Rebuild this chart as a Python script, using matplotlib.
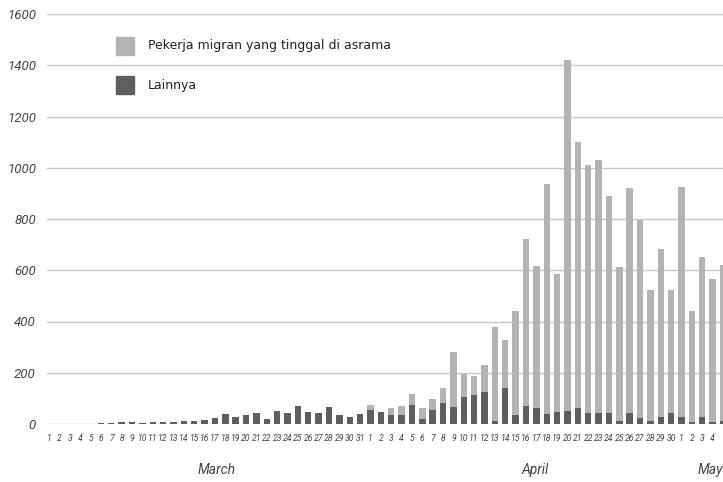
import matplotlib
matplotlib.use("Agg")
import matplotlib.pyplot as plt
from matplotlib.patches import Rectangle
from matplotlib.transforms import blended_transform_factory

day_labels = [str(d) for d in range(1, 32)] + [str(d) for d in range(1, 31)] + [str(d) for d in range(1, 6)]

lainnya = [0, 0, 0, 0, 0, 5, 5, 9, 9, 4, 9, 7, 9, 10, 11, 17, 23, 40, 29, 36, 42, 20, 51, 44, 70, 47, 44, 68, 35, 29, 39,
           56, 47, 36, 36, 73, 21, 56, 83, 65, 104, 112, 125, 12, 142, 35, 69, 61, 38, 47, 52, 61, 44, 44, 42, 13, 42, 22, 13, 26, 42,
           26, 9, 29, 9, 10]
dormitory = [0, 0, 0, 0, 0, 0, 0, 0, 0, 0, 0, 0, 0, 0, 0, 0, 0, 0, 0, 0, 0, 0, 0, 0, 0, 0, 0, 0, 0, 0, 0,
             17, 0, 25, 36, 45, 43, 43, 56, 217, 91, 75, 105, 366, 187, 407, 652, 557, 899, 540, 1369, 1041, 967, 986, 846, 601, 880, 774, 510, 658, 481,
             899, 431, 623, 557, 612]

months = ["March", "April", "May"]
month_pos = [16.2, 46.9, 63.8]

c_light = "#b3b3b3"
c_dark = "#5e5e5e"
txt = "#444444"
fam = ["Roboto", "DejaVu Sans"]

fig = plt.figure(figsize=(7.23, 4.82), dpi=100)
ax = fig.add_axes([47 / 723, 1 - 424 / 482, 1 - 47 / 723, (424 - 14) / 482])

x = list(range(len(day_labels)))
ax.bar(x, lainnya, width=0.62, color=c_dark, zorder=3)
ax.bar(x, dormitory, width=0.62, bottom=lainnya, color=c_light, zorder=3)

ax.set_ylim(0, 1600)
ax.set_xlim(-0.2, 64.8)
ax.set_yticks(range(0, 1601, 200))
ax.yaxis.grid(True, color="#c8c8c8", linewidth=1.0, zorder=0)
ax.set_axisbelow(True)
for s in ax.spines.values():
    s.set_visible(False)
ax.tick_params(axis="y", length=0, pad=8, labelcolor=txt)
ax.set_yticklabels([str(v) for v in range(0, 1601, 200)], fontsize=9.5, fontstyle="italic", family=fam)
ax.set_xticks(x)
ax.set_xticklabels(day_labels, fontsize=6.2, fontstyle="italic", color=txt, family=fam)
ax.get_xticklabels()[-1].set_visible(False)
ax.tick_params(axis="x", length=0, pad=7)

trans = blended_transform_factory(ax.transData, fig.transFigure)
for m, p in zip(months, month_pos):
    ax.text(p, 1 - 470 / 482, m, transform=trans, ha="center", va="center",
            fontsize=10, fontstyle="italic", color=txt, family=fam, clip_on=False)

# legend
for (label, col, yc) in [("Pekerja migran yang tinggal di asrama", c_light, 46), ("Lainnya", c_dark, 85)]:
    fig.patches.append(Rectangle((116 / 723, 1 - (yc + 9) / 482), 18 / 723, 18 / 482,
                                 transform=fig.transFigure, color=col, figure=fig))
    fig.text(148 / 723, 1 - yc / 482, label, ha="left", va="center", fontsize=9, color="#222222")

fig.savefig("out.png", dpi=100)
